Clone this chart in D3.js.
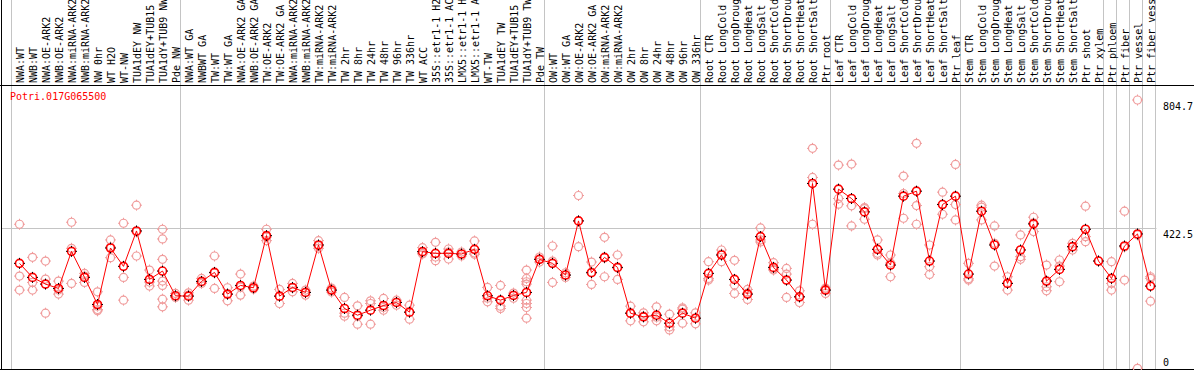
<!DOCTYPE html>
<html>
<head>
<meta charset="utf-8">
<script src="https://cdn.jsdelivr.net/npm/d3@7"></script>
<style>
body { margin: 0; background: #fff; }
svg { display: block; }
text { font-family: "DejaVu Sans Mono", monospace; font-size: 10px; }
</style>
</head>
<body>
<div id="chart"></div>
<script>
var geneName = "Potri.017G065500";

var labels = [
	"NWA:WT", "NWB:WT", "NWA:OE-ARK2", "NWB:OE-ARK2", "NWA:miRNA-ARK2", "NWB:miRNA-ARK2",
	"NW 0hr", "WT H2O", "WT-NW", "TUA1dEY NW", "TUA1dEY+TUB15 NW", "TUA1dY+TUB9 NW", "Pde NW",
	"NWA:WT GA", "NWBWT GA", "TW:WT", "TW:WT GA", "NWA:OE-ARK2 GA", "NWB:OE-ARK2 GA",
	"TW:OE-ARK2", "TW:OE-ARK2 GA", "NWA:miRNA-ARK2", "NWB:miRNA-ARK2", "TW:miRNA-ARK2", "TW:miRNA-ARK2",
	"TW 2hr", "TW 8hr", "TW 24hr", "TW 48hr", "TW 96hr", "TW 336hr", "WT ACC",
	"35S::etr1-1 H2O", "35S::etr1-1 ACC", "LMX5::etr1-1 H2O", "LMX5::etr1-1 ACC",
	"WT-TW", "TUA1dEY TW", "TUA1dEY+TUB15 TW", "TUA1dY+TUB9 TW", "Pde TW",
	"OW:WT", "OW:WT GA", "OW:OE-ARK2", "OW:OE-ARK2 GA", "OW:miRNA-ARK2", "OW:miRNA-ARK2",
	"OW 2hr", "OW 8hr", "OW 24hr", "OW 48hr", "OW 96hr", "OW 336hr",
	"Root CTR", "Root LongCold", "Root LongDrought", "Root LongHeat", "Root LongSalt",
	"Root ShortCold", "Root ShortDrought", "Root ShortHeat", "Root ShortSalt", "Ptr root",
	"Leaf CTR", "Leaf LongCold", "Leaf LongDrought", "Leaf LongHeat", "Leaf LongSalt",
	"Leaf ShortCold", "Leaf ShortDrought", "Leaf ShortHeat", "Leaf ShortSalt", "Ptr leaf",
	"Stem CTR", "Stem LongCold", "Stem LongDrought", "Stem LongHeat", "Stem LongSalt",
	"Stem ShortCold", "Stem ShortDrought", "Stem ShortHeat", "Stem ShortSalt", "Ptr shoot",
	"Ptr xylem", "Ptr phloem", "Ptr fiber", "Ptr vessel", "Ptr fiber vessel"
];

// mean expression per sample
var means = [
	316, 274, 254, 241, 352, 274, 193, 362, 307, 413, 268, 293, 219,
	218, 262, 289, 224, 250, 243, 399, 218, 244, 229, 371, 236, 181, 161, 176, 190, 199, 170, 351,
	346, 346, 344, 358, 219, 206, 220, 229, 328,
	316, 281, 443, 288, 334, 304, 167, 156, 161, 137, 167, 152,
	286, 341, 268, 224, 396, 304, 266, 216, 555, 236,
	538, 510, 470, 358, 311, 517, 532, 323, 492, 517,
	284, 472, 371, 256, 356, 434, 263, 298, 366, 418, 323,
	271, 368, 404, 248
];

// replicate values per sample
var replicates = [
	[433, 278, 236], [334, 259, 236], [323, 269, 167], [263, 236, 224], [439, 361, 256],
	[286, 278, 259], [231, 188, 178, 174], [386, 365, 333], [436, 274, 206], [490, 410, 338],
	[296, 260, 248], [418, 389, 328, 263, 250, 209, 186], [226, 218, 214],
	[228, 221, 206], [271, 260, 256], [338, 287, 241], [243, 224, 204], [284, 245, 221],
	[248, 242, 239], [418, 395, 384], [238, 218, 196], [256, 242, 231], [236, 230, 221],
	[384, 368, 361], [242, 236, 230], [214, 167, 158], [189, 158, 134], [204, 196, 134],
	[211, 184, 176], [206, 200, 191], [191, 170, 149], [363, 346, 344], [379, 335, 324],
	[359, 350, 329], [350, 344, 338], [383, 347, 343], [244, 212, 201], [250, 188, 181],
	[227, 221, 212], [296, 271, 261, 254, 206, 196, 184, 152], [335, 329, 320],
	[368, 323, 259], [288, 281, 274], [519, 443, 366], [320, 290, 253], [394, 332, 276],
	[341, 302, 268], [188, 167, 144], [168, 158, 141], [186, 155, 144], [164, 126, 117],
	[183, 179, 137], [168, 152, 135],
	[321, 271, 266], [356, 344, 321], [325, 251, 226], [238, 227, 208], [422, 386, 380],
	[318, 299, 296], [301, 284, 214], [234, 215, 199], [660, 573, 433], [242, 239, 226],
	[610, 510, 493], [613, 488, 428], [483, 480, 448], [386, 346, 341], [341, 317, 276],
	[577, 525, 451], [675, 489, 433], [371, 306, 283], [529, 493, 463], [612, 492, 446],
	[316, 270, 266], [490, 484, 446], [428, 376, 308], [276, 257, 236], [401, 336, 328],
	[454, 437, 411], [311, 246, 234], [326, 308, 261], [376, 365, 356], [487, 396, 381],
	[323], [321, 256, 236], [472, 365, 266], [804.7, 401, 2], [276, 271, 203]
];

// first sample index of each block, last entry closes the chart
var groupStarts = [0, 13, 41, 53, 63, 73, 84, 85, 86, 87, 88];
var yTicks = [804.7, 422.5, 0];
var refLine = 422.5;

var width = 1194, height = 370;
var headerBottom = 85.5, plotBottom = 369.5;

var svg = d3.select("#chart")
	.append("svg")
	.attr("width", width)
	.attr("height", height);

var x = d3.scaleLinear().domain([0, labels.length]).range([11.5, 1155.5]);
var y = d3.scaleLinear().domain([0, 804.7]).range([369, 100]);
var cx = function(i){ return x(i) + 8; };

//group separators
svg.selectAll(".vgrid")
	.data(groupStarts)
	.enter()
	.append("line")
	.attr("x1", function(d){ return x(d); })
	.attr("x2", function(d){ return x(d); })
	.attr("y1", 0)
	.attr("y2", plotBottom)
	.style("stroke", "#c4c4c4")
	.style("stroke-width", 1);

//reference line
svg.append("line")
	.attr("x1", 2)
	.attr("x2", x(labels.length) + 1)
	.attr("y1", Math.round(y(refLine)) + 0.5)
	.attr("y2", Math.round(y(refLine)) + 0.5)
	.style("stroke", "#c4c4c4")
	.style("stroke-width", 1);

//frame
svg.append("line").attr("x1", 0).attr("x2", width).attr("y1", headerBottom).attr("y2", headerBottom)
	.style("stroke", "#000").style("stroke-width", 1);
svg.append("line").attr("x1", 0).attr("x2", width).attr("y1", plotBottom).attr("y2", plotBottom)
	.style("stroke", "#000").style("stroke-width", 1);
svg.append("line").attr("x1", 1.5).attr("x2", 1.5).attr("y1", 0).attr("y2", height)
	.style("stroke", "#000").style("stroke-width", 1);

//sample labels
svg.selectAll(".lab")
	.data(labels)
	.enter()
	.append("text")
	.attr("transform", function(d, i){ return "translate(" + (cx(i) + 4) + ",83) rotate(-90)"; })
	.attr("fill", "#000")
	.text(function(d){ return d; });

//title
svg.append("text")
	.attr("x", 10)
	.attr("y", 100)
	.attr("fill", "#ff0000")
	.text(geneName);

//value labels
svg.selectAll(".tick")
	.data(yTicks)
	.enter()
	.append("text")
	.attr("x", 1163)
	.attr("y", function(d){ return d == 0 ? 366 : y(d) + 10; })
	.attr("fill", "#000")
	.text(function(d){ return d; });

var drawMarker = function(g, px, py, color, nub, sw){
	g.append("circle")
		.attr("cx", px).attr("cy", py).attr("r", 4)
		.style("fill", "none")
		.style("stroke", color)
		.style("stroke-width", sw);
	[[0, -1], [0, 1], [-1, 0], [1, 0]].forEach(function(o){
		g.append("line")
			.attr("x1", px + o[0] * 4).attr("y1", py + o[1] * 4)
			.attr("x2", px + o[0] * 5.5).attr("y2", py + o[1] * 5.5)
			.style("stroke", nub)
			.style("stroke-width", 1);
	});
};

//replicates
var repLayer = svg.append("g");
replicates.forEach(function(reps, i){
	reps.forEach(function(v){
		drawMarker(repLayer, cx(i), y(v), "#f09c9c", "#f09c9c", 1.2);
	});
});

//means
var meanLayer = svg.append("g");
means.forEach(function(v, i){
	drawMarker(meanLayer, cx(i), y(v), "#ff0000", "#000", 1.6);
});

var line = d3.line()
	.x(function(d, i){ return cx(i); })
	.y(function(d){ return y(d); });

svg.append("path")
	.datum(means)
	.attr("d", line)
	.style("fill", "none")
	.style("stroke", "#ff0000")
	.style("stroke-width", 1);
</script>
</body>
</html>
